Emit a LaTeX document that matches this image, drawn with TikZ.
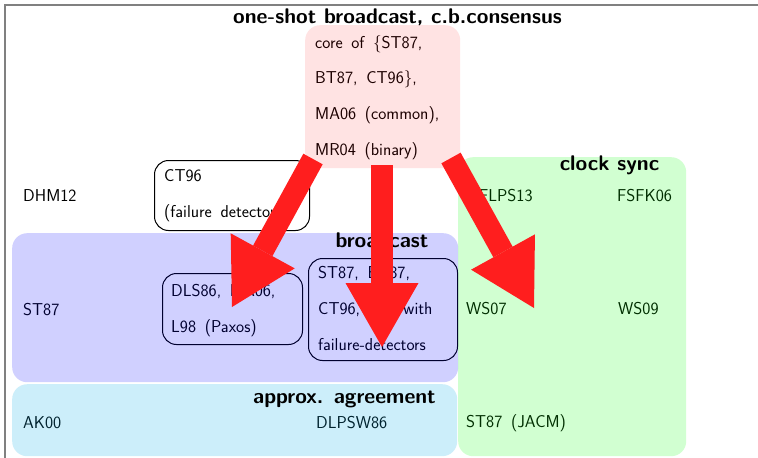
\documentclass[tikz,border=0pt]{standalone}
\usetikzlibrary{arrows.meta}
\definecolor{arrred}{RGB}{255,30,30}
\definecolor{pinkc}{RGB}{255,0,0}
\definecolor{greenc}{RGB}{0,255,0}
\definecolor{bluec}{RGB}{0,0,255}
\definecolor{cyanc}{RGB}{0,170,230}
\definecolor{framegray}{RGB}{128,128,128}
\newcommand\widespaces{\spaceskip=8.7pt\relax}
\tikzset{
  txt/.style={anchor=base west, inner sep=0pt, align=left,
    font=\fontsize{17.2}{35.6}\selectfont\sffamily,
    execute at begin node=\widespaces},
  ttl/.style={anchor=base, inner sep=0pt,
    font=\fontsize{21.2}{24}\selectfont\sffamily\bfseries},
  region/.style={rounded corners=15pt, fill opacity=0.18, inner sep=0pt,
    anchor=north west, draw=none},
  ibox/.style={draw=black, line width=1pt, rounded corners=14pt, inner sep=0pt,
    anchor=north west},
  bigarrow/.style={draw=arrred, line width=22pt, line cap=butt,
    -{Triangle[width=73pt,length=64pt,line width=0pt]}},
}
\begin{document}
\begin{tikzpicture}[x=1pt,y=-1pt]
\useasboundingbox (0,0) rectangle (758,458);
\fill[white] (0,0) rectangle (758,458);
\draw[framegray, line width=1.5pt] (5,458) -- (5,5) -- (758,5);

% bordered inner boxes
\node[ibox, fill=white, minimum width=155pt, minimum height=70pt] (ctbox) at (154,160) {};
\node[ibox, minimum width=140pt, minimum height=71pt] (dlsbox) at (162,273) {};
\node[ibox, minimum width=149pt, minimum height=102pt] (fdbox) at (308,258) {};

% texts (multi-line nodes are anchored at the baseline of their last line)
\node[txt] (core) at (315,155) {core of \{ST87,\\BT87, CT96\},\\MA06 (common),\\MR04 (binary)};
\node[txt] (ct96) at (164,217) {CT96\\(failure detectors)};
\node[txt] (dhm) at (23,201) {DHM12};
\node[txt] (flps) at (479,201) {FLPS13};
\node[txt] (fsfk) at (617,201) {FSFK06};
\node[txt] (st87) at (23,315) {ST87};
\node[txt] (dls) at (171,332) {DLS86, MA06,\\L98 (Paxos)};
\node[txt] (fd) at (318,350) {ST87, BT87,\\CT96, also with\\failure-detectors};
\node[txt] (ws07) at (466,314) {WS07};
\node[txt] (ws09) at (618,314) {WS09};
\node[txt] (ak00) at (23,428) {AK00};
\node[txt] (dlpsw) at (316,428) {DLPSW86};
\node[txt] (jacm) at (466,427) {ST87 (JACM)};

% translucent regions
\node[region, fill=pinkc, fill opacity=0.11, minimum width=155pt, minimum height=143pt] (corebox) at (305,25) {};
\node[region, fill=greenc, minimum width=228pt, minimum height=299pt] (sync) at (458,157) {};
\node[region, fill=bluec, fill opacity=0.185, minimum width=446pt, minimum height=149pt] (bcast) at (12,233) {};
\node[region, fill=cyanc, fill opacity=0.2, minimum width=445pt, minimum height=72pt] (approx) at (12,384) {};

% titles
\node[ttl] (t0) at (397.5,23) {one-shot broadcast, c.b.consensus};
\node[ttl] (t1) at (609.5,170) {clock sync};
\node[ttl] (t2) at (382,247) {broadcast};
\node[ttl] (t3) at (344.5,403) {approx. agreement};

% arrows
\coordinate (a1s) at (313,159);
\coordinate (a1t) at (232,307);
\coordinate (a2s) at (382,165);
\coordinate (a2t) at (382,347);
\coordinate (a3s) at (451,158);
\coordinate (a3t) at (534,308);
\draw[bigarrow] (a1s) -- (a1t);
\draw[bigarrow] (a2s) -- (a2t);
\draw[bigarrow] (a3s) -- (a3t);
\end{tikzpicture}
\end{document}
